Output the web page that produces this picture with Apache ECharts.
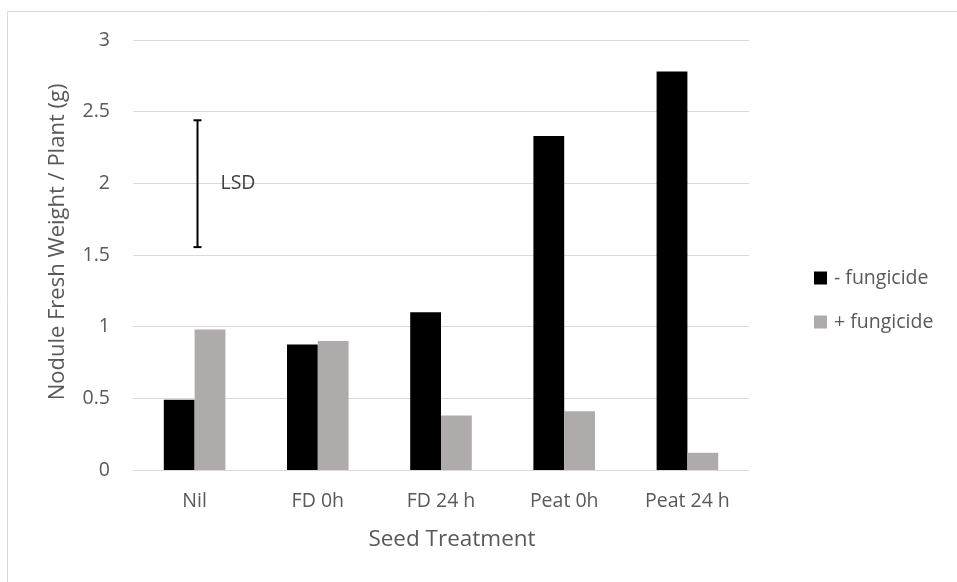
<!DOCTYPE html>
<html>
<head>
<meta charset="utf-8">
<script src="https://cdn.jsdelivr.net/npm/echarts@6/dist/echarts.min.js"></script>
<style>html,body{margin:0;padding:0;background:#fff;}#c{width:957px;height:582px;}</style>
</head>
<body>
<div id="c"></div>
<script>
const categories = ['Nil', 'FD 0h', 'FD 24 h', 'Peat 0h', 'Peat 24 h'];
const minusFungicide = [0.49, 0.875, 1.10, 2.33, 2.78];
const plusFungicide = [0.98, 0.90, 0.38, 0.41, 0.12];
const yTicks = [0, 0.5, 1, 1.5, 2, 2.5, 3];
const lsdCategory = 'Nil';
const lsdLow = 1.555;
const lsdHigh = 2.44;
const lsdLabel = 'LSD';

const FONT = '"Open Sans", sans-serif';
const chart = echarts.init(document.getElementById('c'));
chart.setOption({
  animation: false,
  backgroundColor: '#fff',
  graphic: [{
    type: 'rect', silent: true,
    shape: { x: 7.5, y: 11.5, width: 1200, height: 1200 },
    style: { fill: 'none', stroke: '#D9D9D9', lineWidth: 1 }
  }],
  grid: { left: 133, right: 208, top: 40, bottom: 112, containLabel: false },
  legend: {
    orient: 'vertical', left: 809, top: 263,
    itemWidth: 13, itemHeight: 13, itemGap: 24,
    icon: 'rect',
    data: ['- fungicide', '+ fungicide'],
    textStyle: { fontFamily: FONT, fontSize: 19.5, lineHeight: 20, color: '#595959', padding: [0, 0, 0, 2] }
  },
  xAxis: {
    type: 'category', data: categories,
    axisLine: { lineStyle: { color: '#D9D9D9', width: 1 } },
    axisTick: { show: false },
    axisLabel: { fontFamily: FONT, fontSize: 19.5, color: '#595959', margin: 21 },
    name: 'Seed Treatment', nameLocation: 'middle', nameGap: 58,
    nameTextStyle: { fontFamily: FONT, fontSize: 22.5, color: '#595959', padding: [0, 0, 0, 22] }
  },
  yAxis: {
    type: 'value', min: 0, max: 3, interval: 0.5,
    axisLine: { show: false }, axisTick: { show: false },
    splitLine: { lineStyle: { color: '#D9D9D9', width: 1 } },
    axisLabel: { fontFamily: FONT, fontSize: 19.5, color: '#595959', margin: 23,
      formatter: v => yTicks.includes(v) ? String(v) : '' },
    name: 'Nodule Fresh Weight / Plant (g)', nameLocation: 'middle', nameGap: 64,
    nameTextStyle: { fontFamily: FONT, fontSize: 22, color: '#595959', padding: [0, 0, 0, 26] }
  },
  series: [
    { name: '- fungicide', type: 'bar', data: minusFungicide, barGap: '0%', barCategoryGap: '50%',
      itemStyle: { color: '#000000' } },
    { name: '+ fungicide', type: 'bar', data: plusFungicide, barGap: '0%', barCategoryGap: '50%',
      itemStyle: { color: '#AFABAB' } },
    { name: 'LSD', type: 'custom', data: [[lsdCategory, lsdLow, lsdHigh]],
      encode: { x: 0, y: [1, 2] }, z: 10,
      renderItem: function (params, api) {
        const cat = api.value(0);
        const lo = api.coord([cat, api.value(1)]);
        const hi = api.coord([cat, api.value(2)]);
        const x = Math.round(lo[0]) + 2.5;
        const cap = 4;
        const st = { stroke: '#000', lineWidth: 2 };
        return { type: 'group', children: [
          { type: 'line', shape: { x1: x, y1: hi[1], x2: x, y2: lo[1] }, style: st },
          { type: 'line', shape: { x1: x - cap, y1: hi[1], x2: x + cap, y2: hi[1] }, style: st },
          { type: 'line', shape: { x1: x - cap, y1: lo[1], x2: x + cap, y2: lo[1] }, style: st },
          { type: 'text', x: x + 23, y: (hi[1] + lo[1]) / 2,
            style: { text: lsdLabel, fontFamily: FONT, fontSize: 19.5, fill: '#404040', verticalAlign: 'middle', align: 'left' } }
        ]};
      }
    }
  ]
});
</script>
</body>
</html>
